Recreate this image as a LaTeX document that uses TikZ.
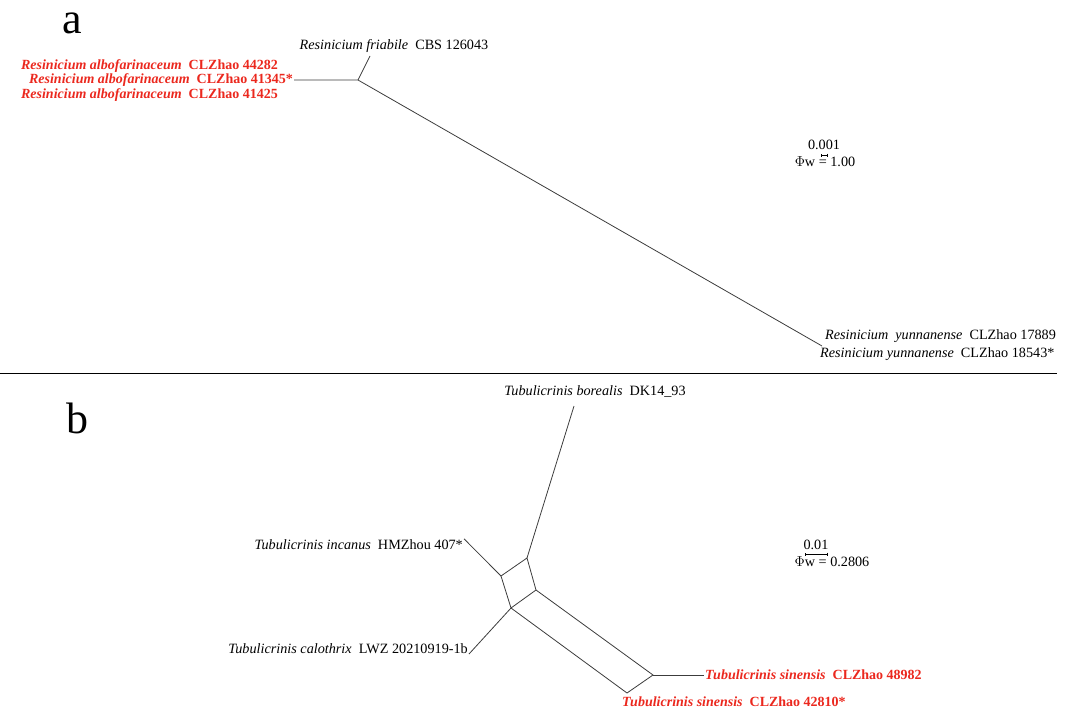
\documentclass[tikz,border=0pt]{standalone}
\usepackage{fontspec}
\setmainfont{Liberation Serif}
\usetikzlibrary{arrows.meta}
\definecolor{taxred}{RGB}{235,40,30}
\definecolor{edgegray}{RGB}{60,60,60}

\begin{document}
\begin{tikzpicture}[x=1pt,y=-1pt,
  taxon/.style={font=\fontsize{14.2}{16}\selectfont,inner sep=1pt},
  newtaxon/.style={taxon,text=taxred,font=\fontsize{14}{16}\selectfont\bfseries},
  edge/.style={draw=edgegray,line width=0.8pt},
  scalebar/.style={{|[width=3pt]}-{|[width=3pt]},line width=0.6pt},
  panel/.style={font=\fontsize{44}{48}\selectfont,inner sep=0pt,anchor=base}
]
\useasboundingbox (0,0) rectangle (1065,720);

% panel a
\node[panel] (pa) at (72,33) {a};
\coordinate (a0) at (358,80);
\coordinate (a1) at (822,346);
\coordinate (fri) at (370,56);
\node[newtaxon,anchor=east] (alb1) at (279,66) {\textit{Resinicium albofarinaceum}\ \ CLZhao 44282};
\node[newtaxon,anchor=east] (alb2) at (294,80) {\textit{Resinicium albofarinaceum}\ \ CLZhao 41345*};
\node[newtaxon,anchor=east] (alb3) at (279,95) {\textit{Resinicium albofarinaceum}\ \ CLZhao 41425};
\node[taxon] (frit) at (394,46) {\textit{Resinicium friabile}\ \ CBS 126043};
\node[taxon,anchor=west] (yun1) at (824,336) {\textit{Resinicium\ \ yunnanense}\ \ CLZhao 17889};
\node[taxon,anchor=west] (yun2) at (819,354) {\textit{Resinicium yunnanense}\ \ CLZhao 18543*};
\draw[edge] (alb2.east) -- (a0) -- (fri);
\draw[edge] (a0) -- (a1);
\node[taxon] (sca) at (824,145) {0.001};
\draw[scalebar] (821,155) -- (828,155);
\node[taxon] (phia) at (825,162) {$\Phi$w = 1.00};

\draw[line width=1pt] (0,373) -- (1057,373);

% panel b
\node[panel] (pb) at (77,433) {b};
\coordinate (q1) at (527,558);
\coordinate (q2) at (501,576);
\coordinate (q3) at (511,608);
\coordinate (q4) at (536,590);
\coordinate (r1) at (653,675);
\coordinate (r2) at (627,693);
\coordinate (bor) at (574,406);
\node[taxon] (bort) at (595,391) {\textit{Tubulicrinis borealis}\ \ DK14\_93};
\node[taxon,anchor=east] (inc) at (464,545) {\textit{Tubulicrinis incanus}\ \ HMZhou 407*};
\node[taxon,anchor=east] (cal) at (469,649) {\textit{Tubulicrinis calothrix}\ \ LWZ 20210919-1b};
\node[newtaxon,anchor=west] (sin1) at (704,675) {\textit{Tubulicrinis sinensis}\ \ CLZhao 48982};
\node[newtaxon,anchor=west] (sin2) at (621,702) {\textit{Tubulicrinis sinensis}\ \ CLZhao 42810*};
\draw[edge] (q1) -- (q2) -- (q3) -- (q4) -- cycle;
\draw[edge] (q1) -- (bor);
\draw[edge] (q2) -- (inc.north east);
\draw[edge] (q3) -- ([yshift=-5pt]cal.east);
\draw[edge] (q4) -- (r1) -- (r2) -- (q3);
\draw[edge] (r1) -- (sin1.west);
\node[taxon] (scb) at (816,545) {0.01};
\draw[scalebar] (805,554) -- (828,554);
\node[taxon] (phib) at (832,562) {$\Phi$w = 0.2806};
\end{tikzpicture}
\end{document}
